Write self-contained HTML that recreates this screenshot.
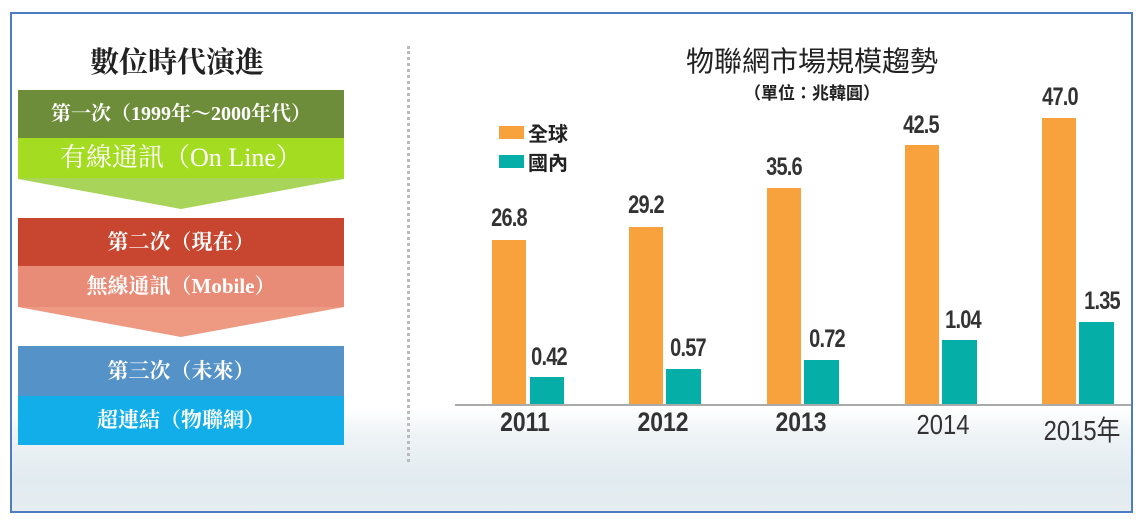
<!DOCTYPE html>
<html><head><meta charset="utf-8"><style>
*{margin:0;padding:0;box-sizing:border-box}
body{width:1143px;height:521px;background:#fff;position:relative;overflow:hidden;font-family:"Liberation Sans","Noto Sans CJK TC",sans-serif}
.frame{position:absolute;left:10px;top:12px;width:1123px;height:501px;border:2px solid #4d7cc0;overflow:hidden;background:#fff}
.bg{position:absolute;left:0;right:0;top:395px;bottom:0;background:linear-gradient(180deg,rgba(240,245,248,0) 0%,#eef3f6 25%,#e2ebf0 70%,#e6edf1 100%)}
.abs{position:absolute;white-space:nowrap}
.box{position:absolute;left:6px;width:326px;color:#fff;text-align:center;font-family:"Liberation Serif","Noto Serif CJK SC",serif;font-weight:bold;white-space:nowrap}
.num{position:absolute;font-size:25px;color:#333;text-align:center;width:80px;transform:scaleX(0.8);letter-spacing:-1px;font-weight:bold;white-space:nowrap}
.bar{position:absolute;bottom:0}
.yr{position:absolute;font-size:27px;color:#333;width:120px;text-align:center;transform:scaleX(0.85);white-space:nowrap}
</style></head><body>
<div class="frame">
<div class="bg"></div>
<div class="abs" style="left:0;width:330px;top:26px;text-align:center;font-size:29px;font-weight:bold;color:#222;font-family:'Liberation Serif','Noto Serif CJK SC',serif">數位時代演進</div>

<div class="box" style="top:76px;height:48px;background:#6e8d3a;line-height:48px;font-size:20px">第一次（1999年～2000年代）</div>
<svg class="abs" style="left:6px;top:124px" width="326" height="72"><polygon points="0,0 326,0 326,41 163,71 0,41" fill="#a9d45a"/><rect x="0" y="0" width="326" height="40" fill="#a4dc22"/></svg>
<div class="box" style="top:124px;height:40px;line-height:40px;font-size:26px;font-weight:normal">有線通訊（On Line）</div>

<div class="box" style="top:204px;height:48px;background:#c8452f;line-height:48px;font-size:21px">第二次（現在）</div>
<svg class="abs" style="left:6px;top:252px" width="326" height="72"><polygon points="0,0 326,0 326,41 163,71 0,41" fill="#ee9a82"/><rect x="0" y="0" width="326" height="41" fill="#e98c77"/></svg>
<div class="box" style="top:252px;height:41px;line-height:41px;font-size:21px">無線通訊（Mobile）</div>

<div class="box" style="top:332px;height:50px;background:#5592c7;line-height:50px;font-size:21px">第三次（未來）</div>
<div class="box" style="top:382px;height:49px;background:#12aeea;line-height:49px;font-size:21px">超連結（物聯網）</div>

<div class="abs" style="left:395px;top:32px;height:416px;border-left:3px dotted #bbb"></div>

<div class="abs" style="left:600px;width:400px;top:26px;text-align:center;font-size:28px;color:#222">物聯網市場規模趨勢</div>
<div class="abs" style="left:600px;width:400px;top:65px;text-align:center;font-size:17px;font-weight:bold;color:#222">（單位：兆韓圓）</div>

<div class="abs" style="left:487px;top:112px;width:25px;height:13px;background:#f7a23d"></div>
<div class="abs" style="left:516px;top:104px;font-size:20px;color:#222;font-weight:bold">全球</div>
<div class="abs" style="left:487px;top:141px;width:25px;height:13px;background:#06aea8"></div>
<div class="abs" style="left:516px;top:133px;font-size:20px;color:#222;font-weight:bold">國內</div>

<div class="abs" style="left:0;top:0;width:1123px;height:391px">
<div class="bar" style="left:480px;width:34px;height:165px;background:#f7a23d"></div>
<div class="bar" style="left:518px;width:34px;height:28px;background:#06aea8"></div>
<div class="bar" style="left:617px;width:34px;height:178px;background:#f7a23d"></div>
<div class="bar" style="left:654px;width:35px;height:36px;background:#06aea8"></div>
<div class="bar" style="left:755px;width:34px;height:217px;background:#f7a23d"></div>
<div class="bar" style="left:792px;width:35px;height:45px;background:#06aea8"></div>
<div class="bar" style="left:893px;width:34px;height:260px;background:#f7a23d"></div>
<div class="bar" style="left:930px;width:35px;height:65px;background:#06aea8"></div>
<div class="bar" style="left:1030px;width:34px;height:287px;background:#f7a23d"></div>
<div class="bar" style="left:1067px;width:35px;height:83px;background:#06aea8"></div>
</div>
<div class="abs" style="left:443px;top:390px;width:680px;height:2px;background:#aaa"></div>

<div class="num" style="left:457px;top:190px">26.8</div>
<div class="num" style="left:497px;top:329px">0.42</div>
<div class="num" style="left:594px;top:177px">29.2</div>
<div class="num" style="left:636px;top:320px">0.57</div>
<div class="num" style="left:732px;top:139px">35.6</div>
<div class="num" style="left:775px;top:311px">0.72</div>
<div class="num" style="left:869px;top:97px">42.5</div>
<div class="num" style="left:911px;top:292px">1.04</div>
<div class="num" style="left:1008px;top:69px">47.0</div>
<div class="num" style="left:1050px;top:273px">1.35</div>

<div class="yr" style="left:453px;top:393px;font-weight:bold">2011</div>
<div class="yr" style="left:591px;top:393px;font-weight:bold">2012</div>
<div class="yr" style="left:729px;top:393px;font-weight:bold">2013</div>
<div class="yr" style="left:871px;top:395px;font-size:28px">2014</div>
<div class="yr" style="left:1005px;top:395px;width:130px;font-size:28px">2015年</div>
</div>
</body></html>
